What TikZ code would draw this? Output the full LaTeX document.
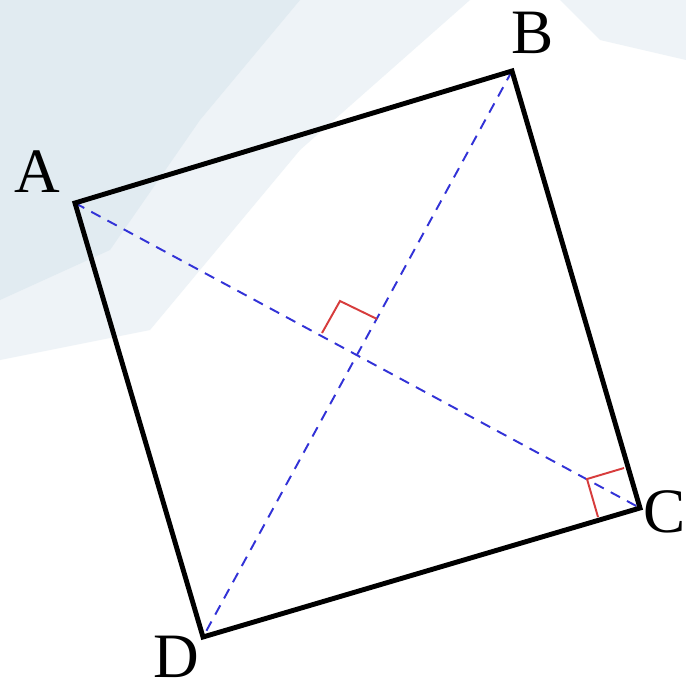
\documentclass[tikz,border=0pt]{standalone}
\usepackage{fontspec}
\setmainfont{Liberation Serif}
\begin{document}
\begin{tikzpicture}[x=0.02cm,y=-0.02cm,
  side/.style={line width=2.8pt,line join=miter,black},
  diag/.style={line width=1.1pt,dash pattern=on 6pt off 4.5pt,color=diagblue},
  rmark/.style={line width=1.1pt,color=markred},
  lab/.style={font=\fontsize{36}{38}\selectfont,inner sep=0pt}]
\definecolor{diagblue}{RGB}{50,50,215}
\definecolor{markred}{RGB}{215,60,60}
\definecolor{bgA}{RGB}{222,233,240}
\definecolor{bgB}{RGB}{238,243,247}
\useasboundingbox (0,0) rectangle (686,693);
\fill[white] (0,0) rectangle (686,693);
% faint background photo tones
\fill[bgB] (0,0) -- (470,0) -- (300,150) -- (150,330) -- (0,360) -- cycle;
\fill[bgA,opacity=0.8] (0,0) -- (300,0) -- (200,120) -- (110,250) -- (0,300) -- cycle;
\fill[bgB] (560,0) -- (686,0) -- (686,60) -- (600,40) -- cycle;
% vertices
\coordinate (A) at (75,203);
\coordinate (B) at (512,71);
\coordinate (C) at (640,508);
\coordinate (D) at (203,637);
% diagonals
\draw[diag] (A) -- (C);
\draw[diag] (B) -- (D);
% right-angle markers
\coordinate (m1) at (322,333);
\coordinate (m2) at (340,301);
\coordinate (m3) at (377,319);
\draw[rmark] (m1) -- (m2) -- (m3);
\coordinate (c1) at (624,468);
\coordinate (c2) at (587,479);
\coordinate (c3) at (598,517);
\draw[rmark] (c1) -- (c2) -- (c3);
% square
\draw[side] (A) -- (B) -- (C) -- (D) -- cycle;
% labels
\node[lab] (lA) at (37,172) {A};
\node[lab] (lB) at (533,33) {B};
\node[lab] (lC) at (665,512) {C};
\node[lab] (lD) at (176,657) {D};
\end{tikzpicture}
\end{document}
